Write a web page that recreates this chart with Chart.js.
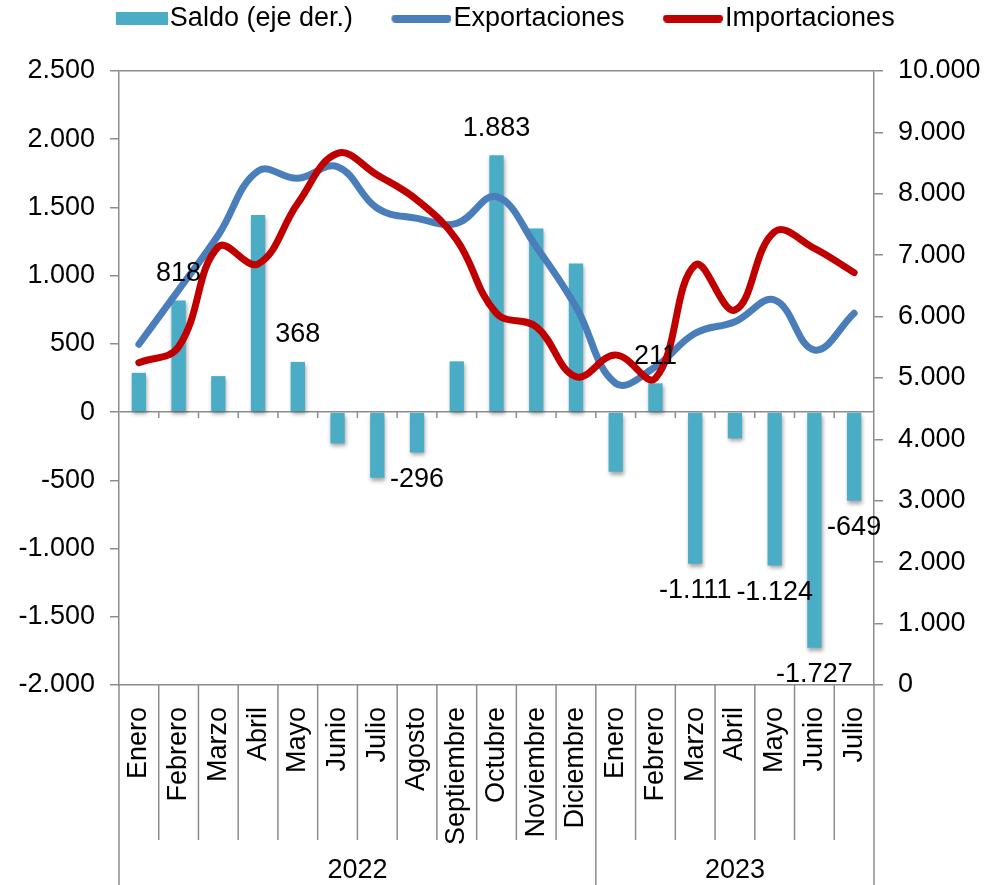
<!DOCTYPE html>
<html>
<head>
<meta charset="utf-8">
<script src="https://cdn.jsdelivr.net/npm/chart.js@4.4.0/dist/chart.umd.min.js"></script>
<style>
  html, body { margin: 0; padding: 0; background: #fff; }
</style>
</head>
<body>
<canvas id="graficoSaldo" width="999" height="885"></canvas>
<script>
const meses = ['Enero', 'Febrero', 'Marzo', 'Abril', 'Mayo', 'Junio', 'Julio', 'Agosto', 'Septiembre',
    'Octubre', 'Noviembre', 'Diciembre', 'Enero', 'Febrero', 'Marzo', 'Abril', 'Mayo', 'Junio', 'Julio'];
const anios = ['2022', '2023'];
const mesesPorAnio = [12, 7];

const saldo = [288, 818, 264, 1444, 368, -230, -481, -296, 372, 1883, 1346, 1090,
    -437, 211, -1111, -193, -1124, -1727, -649];
const exportaciones = [5549, 6433, 7329, 8371, 8252, 8442, 7764, 7600, 7519, 7953, 7138, 6161,
    4913, 5184, 5728, 5917, 6270, 5456, 6054];
const importaciones = [5249, 5510, 7138, 6857, 7845, 8659, 8306, 7899, 7248, 6054, 5835, 5021,
    5375, 4995, 6840, 6107, 7383, 7112, 6716];

// barras que llevan etiqueta de valor
const conEtiqueta = [1, 4, 7, 9, 13, 14, 16, 17, 18];

const gris = '#8c8c8c';
const fuente = "'Liberation Sans', Arial, sans-serif";
const tam = 27;
Chart.defaults.font.family = fuente;
Chart.defaults.color = '#000';

const fmt = v => String(v).replace(/\B(?=(\d{3})+(?!\d))/g, '.');

// iconos de la leyenda (parte visible pegada a la derecha)
function icono(ancho, visible, alto, color, redondo) {
    const c = document.createElement('canvas');
    c.width = ancho;
    c.height = alto;
    const g = c.getContext('2d');
    g.fillStyle = color;
    if (redondo) {
        g.beginPath();
        g.roundRect(ancho - visible, 0, visible, alto, alto / 2);
        g.fill();
    } else {
        g.fillRect(ancho - visible, 0, visible, alto);
    }
    return c;
}
const anchoCaja = 82;
const iconos = [
    icono(anchoCaja + 23, 52, 13, '#4BACC6', false),
    icono(anchoCaja + 23, 60, 8, '#4A7EBB', true),
    icono(anchoCaja + 23, 60, 8, '#C00000', true)
];

const marcoCategorias = {
    id: 'marcoCategorias',
    afterDraw(chart) {
        const { ctx, chartArea: a, scales: { y } } = chart;
        const n = meses.length;
        const paso = (a.right - a.left) / n;
        const y0 = y.getPixelForValue(0);
        const limites = [0];
        mesesPorAnio.forEach(c => limites.push(limites[limites.length - 1] + c));

        ctx.save();
        ctx.strokeStyle = gris;
        ctx.lineWidth = 1.5;
        for (let i = 0; i <= n; i++) {
            const px = a.left + i * paso;
            ctx.beginPath();
            ctx.moveTo(px, a.bottom);
            ctx.lineTo(px, limites.includes(i) ? chart.height : a.bottom + 155);
            ctx.stroke();
            if (i > 0 && i < n) {
                ctx.beginPath();
                ctx.moveTo(px, y0);
                ctx.lineTo(px, y0 + 6);
                ctx.stroke();
            }
        }
        ctx.fillStyle = '#000';
        ctx.font = tam + 'px ' + fuente;
        ctx.textAlign = 'center';
        ctx.textBaseline = 'middle';
        anios.forEach((anio, k) => {
            const xm = a.left + (limites[k] + limites[k + 1]) / 2 * paso;
            ctx.fillText(anio, xm, a.bottom + 186);
        });
        ctx.restore();
    }
};

const etiquetasSaldo = {
    id: 'etiquetasSaldo',
    beforeDatasetDraw(chart, args) {
        if (args.index !== 0) return;
        const ctx = chart.ctx;
        ctx.save();
        ctx.shadowColor = 'rgba(0,0,0,0.35)';
        ctx.shadowBlur = 4;
        ctx.shadowOffsetX = 1;
        ctx.shadowOffsetY = 3;
    },
    afterDatasetDraw(chart, args) {
        if (args.index !== 0) return;
        chart.ctx.restore();
    },
    afterDatasetsDraw(chart) {
        const ctx = chart.ctx;
        ctx.save();
        ctx.fillStyle = '#000';
        ctx.font = tam + 'px ' + fuente;
        ctx.textAlign = 'center';
        ctx.textBaseline = 'middle';
        const barras = chart.getDatasetMeta(0).data;
        conEtiqueta.forEach(i => {
            const v = saldo[i];
            const b = barras[i];
            ctx.fillText(fmt(v), b.x, b.y + (v >= 0 ? -27 : 27));
        });
        ctx.restore();
    }
};

const ctx = document.getElementById('graficoSaldo').getContext('2d');
const grafico = new Chart(ctx, {
    type: 'bar',
    data: {
        labels: meses,
        datasets: [{
            type: 'bar',
            label: 'Saldo (eje der.)',
            data: saldo,
            yAxisID: 'y',
            backgroundColor: '#4BACC6',
            barPercentage: 0.36,
            categoryPercentage: 1,
            order: 3
        }, {
            type: 'line',
            label: 'Exportaciones',
            data: exportaciones,
            yAxisID: 'y1',
            borderColor: '#4A7EBB',
            backgroundColor: '#4A7EBB',
            borderWidth: 7,
            tension: 0.4,
            pointRadius: 0,
            borderCapStyle: 'round',
            borderJoinStyle: 'round',
            order: 2
        }, {
            type: 'line',
            label: 'Importaciones',
            data: importaciones,
            yAxisID: 'y1',
            borderColor: '#C00000',
            backgroundColor: '#C00000',
            borderWidth: 7,
            tension: 0.4,
            pointRadius: 0,
            borderCapStyle: 'round',
            borderJoinStyle: 'round',
            order: 1
        }]
    },
    options: {
        responsive: false,
        animation: false,
        layout: { padding: 0 },
        plugins: {
            legend: {
                display: true,
                position: 'top',
                labels: {
                    usePointStyle: true,
                    pointStyleWidth: anchoCaja,
                    padding: 5,
                    color: '#000',
                    font: { size: tam },
                    generateLabels: chart => {
                        const items = Chart.defaults.plugins.legend.labels.generateLabels(chart);
                        items.sort((a, b) => a.datasetIndex - b.datasetIndex);
                        items.forEach(it => { it.pointStyle = iconos[it.datasetIndex]; });
                        // espacio final para centrar la parte visible de la leyenda
                        items[items.length - 1].text += '\u00a0\u00a0\u00a0\u00a0';
                        return items;
                    }
                }
            },
            subtitle: {
                display: true,
                text: '',
                weight: 500,
                font: { size: 10, lineHeight: 1 },
                padding: { top: 0, bottom: 19 }
            },
            tooltip: { enabled: false }
        },
        scales: {
            x: {
                offset: true,
                grid: { display: false },
                border: { display: true, color: gris, width: 1.5 },
                ticks: {
                    autoSkip: false,
                    minRotation: 90,
                    maxRotation: 90,
                    padding: 14,
                    color: '#000',
                    font: { size: tam }
                },
                afterFit: s => { s.height = 200; }
            },
            y: {
                position: 'left',
                min: -2000,
                max: 2500,
                ticks: {
                    stepSize: 500,
                    padding: 15,
                    color: '#000',
                    font: { size: tam },
                    callback: v => fmt(v)
                },
                grid: {
                    color: c => (c.tick && (c.tick.value === 0 || c.tick.value === 2500)) ? gris : 'rgba(0,0,0,0)',
                    lineWidth: 1.5,
                    tickLength: 9,
                    tickColor: gris,
                    tickWidth: 1.5
                },
                border: { color: gris, width: 1.5 },
                afterFit: s => { s.width = 119; }
            },
            y1: {
                position: 'right',
                min: 0,
                max: 10000,
                ticks: {
                    stepSize: 1000,
                    padding: 15,
                    color: '#000',
                    font: { size: tam },
                    callback: v => fmt(v)
                },
                grid: {
                    drawOnChartArea: false,
                    color: gris,
                    lineWidth: 1.5,
                    tickLength: 9,
                    tickColor: gris,
                    tickWidth: 1.5
                },
                border: { color: gris, width: 1.5 },
                afterFit: s => { s.width = 125; }
            }
        }
    },
    plugins: [marcoCategorias, etiquetasSaldo]
});
</script>
</body>
</html>
